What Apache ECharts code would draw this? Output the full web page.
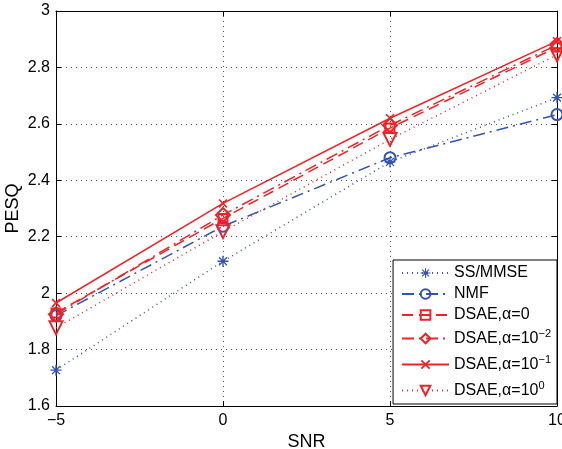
<!DOCTYPE html>
<html>
<head>
<meta charset="utf-8">
<script src="https://cdn.jsdelivr.net/npm/echarts@6/dist/echarts.min.js"></script>
<style>
  html, body { margin: 0; padding: 0; background: #fff; }
  #chart { width: 562px; height: 449px; }
</style>
</head>
<body>
<div id="chart"></div>
<script>
const snr = [-5, 0, 5, 10];
const ssMmse = [1.727, 2.113, 2.465, 2.693];
const nmf = [1.92, 2.237, 2.48, 2.633];
const dsae0 = [1.93, 2.265, 2.585, 2.872];
const dsaeM2 = [1.925, 2.277, 2.595, 2.88];
const dsaeM1 = [1.965, 2.318, 2.62, 2.893];
const dsae1 = [1.877, 2.218, 2.545, 2.845];
const yTicks = [1.6, 1.8, 2, 2.2, 2.4, 2.6, 2.8, 3];

const blue = "#3553b3";
const red = "#ee2328";
const font = "Liberation Sans";

// asterisk / cross markers, MATLAB style
const asterisk = "path://M2 10.8H22V13.2H2ZM10.8 2H13.2V22H10.8ZM4 5.7L5.7 4L20 18.3L18.3 20ZM18.3 4L20 5.7L5.7 20L4 18.3Z";
const cross = "path://M3.4 5.6L5.6 3.4L20.6 18.4L18.4 20.6ZM18.4 3.4L20.6 5.6L5.6 20.6L3.4 18.4Z";

function pairs(ys) {
  return snr.map((x, i) => [x, ys[i]]);
}

function line(name, ys, color, type, symbol, size, filled, rotate) {
  return {
    name,
    type: "line",
    data: pairs(ys),
    symbol,
    symbolSize: size,
    symbolRotate: rotate || 0,
    showAllSymbol: true,
    clip: false,
    lineStyle: { color, width: 1.5, type },
    itemStyle: filled
      ? { color, borderColor: color, borderWidth: 0 }
      : { color: "rgba(0,0,0,0)", borderColor: color, borderWidth: 2 },
    emphasis: { disabled: true },
    animation: false,
    z: 3
  };
}

const chart = echarts.init(document.getElementById("chart"));

const minus = v => String(v).replace("-", "\u2212");

chart.setOption({
  backgroundColor: "#fff",
  grid: { left: 56, right: 5, top: 11, bottom: 43, outerBoundsMode: "none", containLabel: false },
  legend: {
    orient: "vertical",
    right: 5,
    bottom: 45,
    backgroundColor: "#fff",
    borderColor: "#000",
    borderWidth: 1,
    borderRadius: 0,
    padding: [5, 6, 3, 8],
    itemGap: 5,
    itemWidth: 47,
    itemHeight: 12,
    z: 10,
    textStyle: {
      fontFamily: font,
      fontSize: 16,
      color: "#000",
      rich: {
        b: { fontFamily: font, fontSize: 16, color: "#000", lineHeight: 19 },
        s: { fontFamily: font, fontSize: 11, color: "#000", lineHeight: 19, padding: [0, 0, 10, 0] }
      }
    },
    formatter: function (name) {
      const m = name.match(/^(.*)\^(.*)$/);
      if (!m) return "{b|" + name + "}";
      return "{b|" + m[1] + "}{s|" + minus(m[2]) + "}";
    },
    data: ["SS/MMSE", "NMF", "DSAE,\u03b1=0", "DSAE,\u03b1=10^-2", "DSAE,\u03b1=10^-1", "DSAE,\u03b1=10^0"]
  },
  xAxis: [
    {
      type: "value",
      min: -5,
      max: 10,
      interval: 5,
      name: "SNR",
      nameLocation: "middle",
      nameGap: 27,
      nameMoveOverlap: false,
      nameTextStyle: { fontFamily: font, fontSize: 18, color: "#000" },
      axisLine: { onZero: false, lineStyle: { color: "#000", width: 1 } },
      axisTick: { inside: true, length: 5, lineStyle: { color: "#000" } },
      axisLabel: { fontFamily: font, fontSize: 16, color: "#000", margin: 7, formatter: minus, showMaxLabel: true, hideOverlap: false },
      splitLine: { show: true, lineStyle: { color: "#555", type: [1, 4], width: 1 } }
    },
    {
      type: "value",
      position: "top",
      min: -5,
      max: 10,
      interval: 5,
      axisLine: { show: true, onZero: false, lineStyle: { color: "#000", width: 1 } },
      axisTick: { inside: true, length: 5, lineStyle: { color: "#000" } },
      axisLabel: { show: false },
      splitLine: { show: false }
    }
  ],
  yAxis: [
    {
      type: "value",
      min: 1.6,
      max: 3,
      interval: 0.2,
      name: "PESQ",
      nameLocation: "middle",
      nameGap: 34,
      nameMoveOverlap: false,
      nameTextStyle: { fontFamily: font, fontSize: 18, color: "#000" },
      axisLine: { show: true, onZero: false, lineStyle: { color: "#000", width: 1 } },
      axisTick: { show: true, inside: true, length: 5, lineStyle: { color: "#000" } },
      axisLabel: {
        fontFamily: font, fontSize: 16, color: "#000", margin: 6,
        formatter: v => String(yTicks.find(t => Math.abs(t - v) < 1e-6) ?? v)
      },
      splitLine: { show: true, lineStyle: { color: "#555", type: [1, 4], width: 1 } }
    },
    {
      type: "value",
      position: "right",
      min: 1.6,
      max: 3,
      interval: 0.2,
      axisLine: { show: true, onZero: false, lineStyle: { color: "#000", width: 1 } },
      axisTick: { show: true, inside: true, length: 5, lineStyle: { color: "#000" } },
      axisLabel: { show: false },
      splitLine: { show: false }
    }
  ],
  series: [
    line("SS/MMSE", ssMmse, blue, [1, 4], asterisk, 11, true),
    line("NMF", nmf, blue, [12, 5, 2, 5], "circle", 11, false),
    line("DSAE,\u03b1=0", dsae0, red, [11, 6], "rect", 9, false),
    line("DSAE,\u03b1=10^-2", dsaeM2, red, [12, 5, 2, 5], "diamond", 14, false),
    line("DSAE,\u03b1=10^-1", dsaeM1, red, "solid", cross, 9, true),
    line("DSAE,\u03b1=10^0", dsae1, red, [1, 4], "triangle", 13, false, 180)
  ]
});
</script>
</body>
</html>
